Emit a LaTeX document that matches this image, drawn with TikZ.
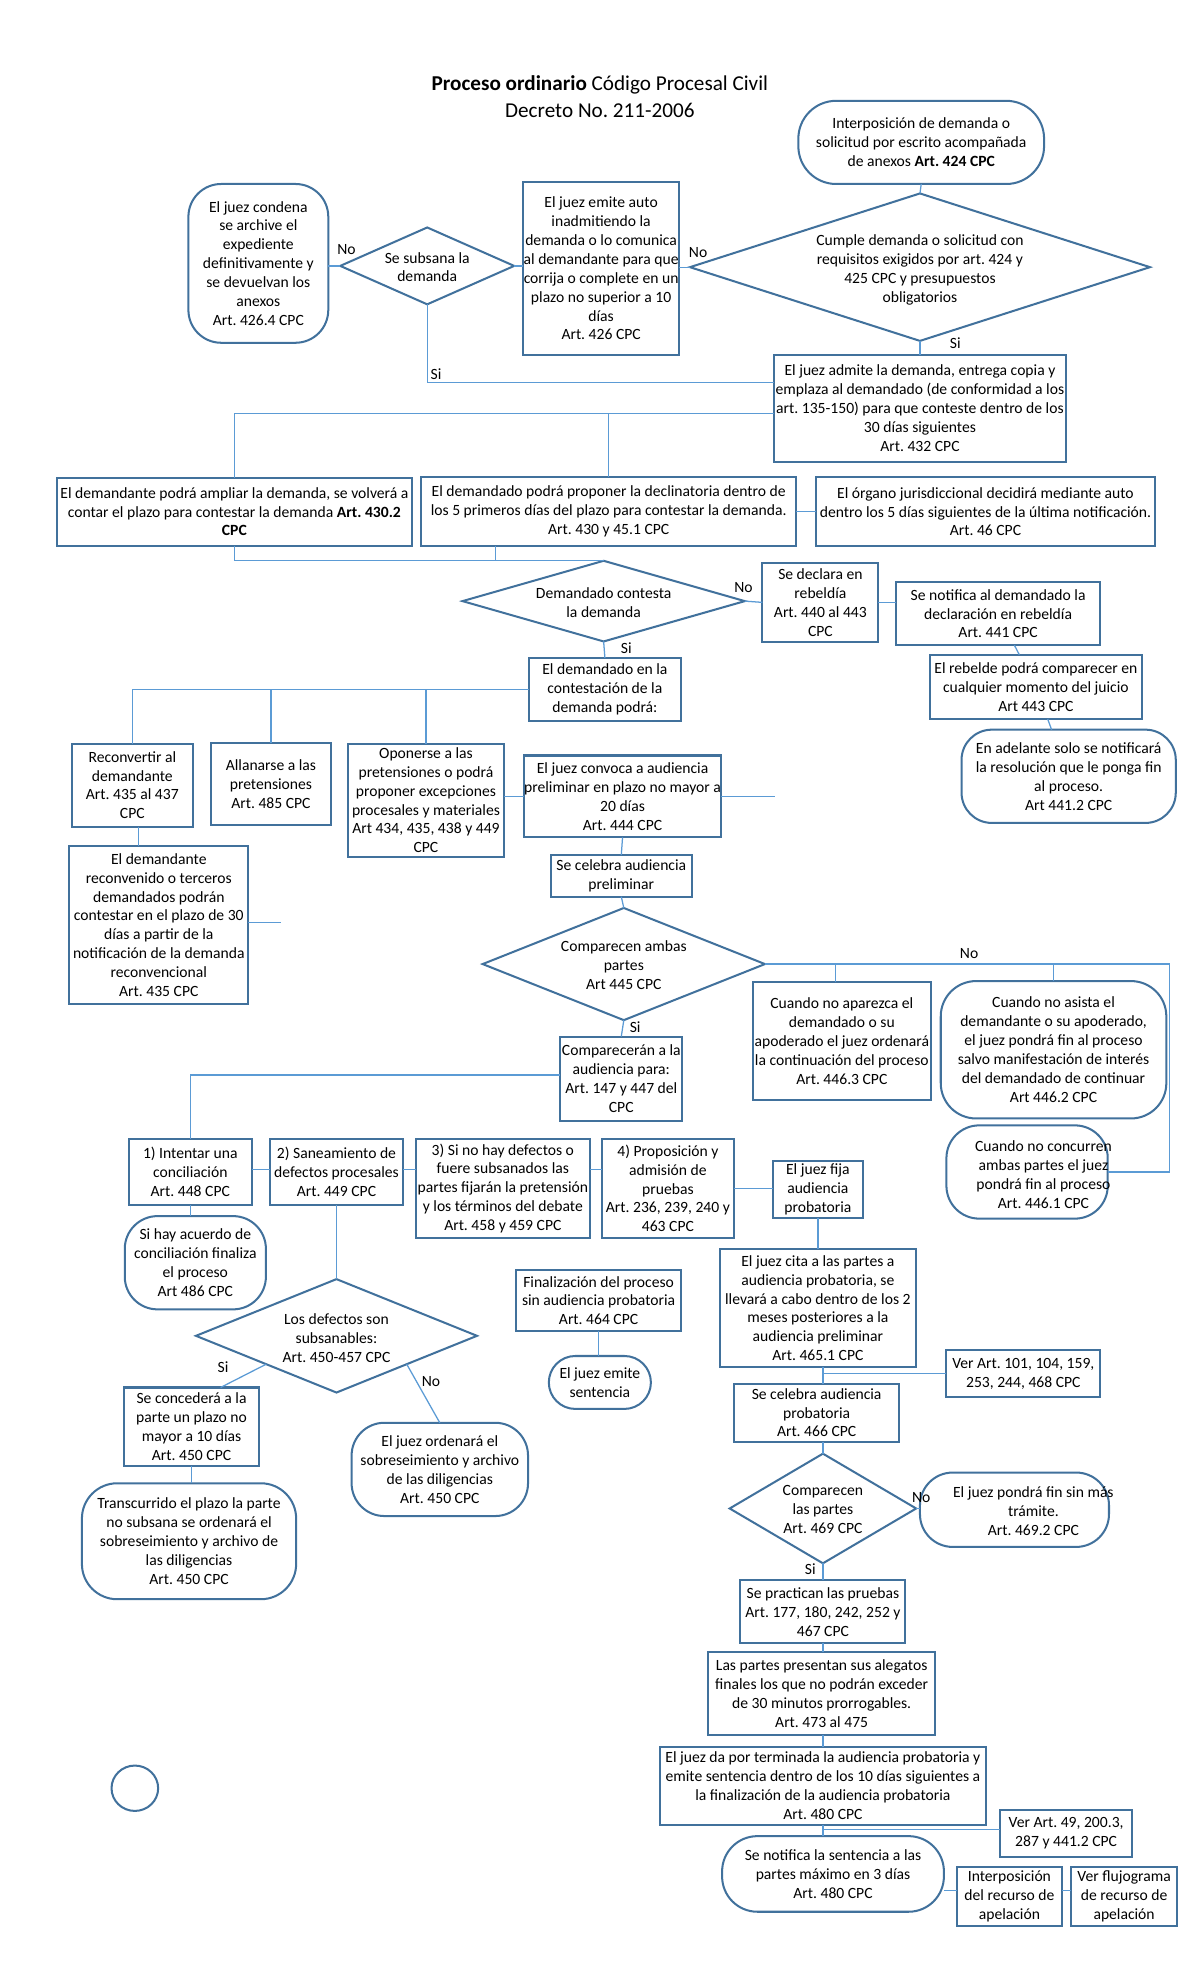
\documentclass[tikz,border=0pt]{standalone}
\usepackage{fontspec}
\setmainfont{Carlito}
\usetikzlibrary{shapes.geometric,calc}
\definecolor{bord}{HTML}{41719C}
\definecolor{conn}{HTML}{5B9BD5}
\frenchspacing
\begin{document}
\begin{tikzpicture}[x=1pt,y=-1pt,
  every node/.style={font=\fontsize{12.4}{15}\selectfont\frenchspacing},
  box/.style={draw=bord, line width=1.6pt, align=center, inner sep=0pt, outer sep=0pt, rectangle},
  rbox/.style={box, rounded corners=#1},
  dia/.style={diamond, draw=bord, line width=1.6pt, inner sep=0pt, outer sep=0pt},
  sz/.style 2 args={minimum width=#1pt, minimum height=#2pt},
  txt/.style={align=center, inner sep=0pt},
  lab/.style={inner sep=0pt},
  cn/.style={draw=conn, line width=1pt},
]
\fill[white] (0,0) rectangle (952,1568);
\useasboundingbox (0,0) rectangle (952,1568);

% title
\node[font=\fontsize{16.8}{21}\selectfont\frenchspacing, inner sep=0pt] (t1) at (476,67) {\textbf{Proceso ordinario} Código Procesal Civil};
\node[font=\fontsize{16.8}{21}\selectfont\frenchspacing, inner sep=0pt] (t2) at (476,88) {Decreto No. 211-2006};

% top part
\node[rbox=30pt, sz={195}{66}] (start) at (731,113) {Interposición de demanda o\\solicitud por escrito acompañada\\de anexos \textbf{Art. 424 CPC}};
\node[dia, sz={365}{117}] (d1) at (730,212) {};
\node[txt] (d1t) at (730,214) {Cumple demanda o solicitud con\\requisitos exigidos por art. 424 y\\425 CPC y presupuestos\\obligatorios};
\node[box, sz={124}{137}] (emite) at (477,213) {El juez emite auto\\inadmitiendo la\\demanda o lo comunica\\al demandante para que\\corrija o complete en un\\plazo no superior a 10\\días\\Art. 426 CPC};
\node[dia, sz={138}{61}] (sub) at (339,211) {};
\node[txt] (subt) at (339,212) {Se subsana la\\demanda};
\node[rbox=26pt, sz={111}{126}] (condena) at (205,209) {El juez condena\\se archive el\\expediente\\definitivamente y\\se devuelvan los\\anexos\\Art. 426.4 CPC};
\node[box, sz={231}{85}] (admite) at (730,324) {El juez admite la demanda, entrega copia y\\emplaza al demandado (de conformidad a los\\art. 135-150) para que conteste dentro de los\\30 días siguientes\\Art. 432 CPC};

\node[box, sz={282}{54}] (ampl) at (186,406) {El demandante podrá ampliar la demanda, se volverá a\\contar el plazo para contestar la demanda \textbf{Art. 430.2}\\\textbf{CPC}};
\node[box, sz={298}{55}] (decl) at (483,406) {El demandado podrá proponer la declinatoria dentro de\\los 5 primeros días del plazo para contestar la demanda.\\Art. 430 y 45.1 CPC};
\node[box, sz={269}{55}] (organo) at (782,406) {El órgano jurisdiccional decidirá mediante auto\\dentro los 5 días siguientes de la última notificación.\\Art. 46 CPC};

\node[dia, sz={224}{64}] (d2) at (479,477) {};
\node[txt] (d2t) at (479,478) {Demandado contesta\\la demanda};
\node[box, sz={92}{63}] (reb) at (651,478) {Se declara en\\rebeldía\\Art. 440 al 443\\CPC};
\node[box, sz={162}{50}] (notif) at (792,487) {Se notifica al demandado la\\declaración en rebeldía\\Art. 441 CPC};
\node[box, sz={168}{51}] (rebelde) at (822,545) {El rebelde podrá comparecer en\\cualquier momento del juicio\\Art 443 CPC};
\node[rbox=24pt, sz={170}{74}] (adel) at (848,616) {En adelante solo se notificará\\la resolución que le ponga fin\\al proceso.\\Art 441.2 CPC};

\node[box, sz={121}{50}] (contest) at (480,547) {El demandado en la\\contestación de la\\demanda podrá:};
\node[box, sz={96}{66}] (reconv) at (105,623) {Reconvertir al\\demandante\\Art. 435 al 437\\CPC};
\node[box, sz={95}{65}] (allan) at (215,622) {Allanarse a las\\pretensiones\\Art. 485 CPC};
\node[box, sz={124}{90}] (opon) at (338,635) {Oponerse a las\\pretensiones o podrá\\proponer excepciones\\procesales y materiales\\Art 434, 435, 438 y 449\\CPC};
\node[box, sz={157}{65}] (convoca) at (494,632) {El juez convoca a audiencia\\preliminar en plazo no mayor a\\20 días\\Art. 444 CPC};
\node[box, sz={142}{126}] (recon2) at (126,734) {El demandante\\reconvenido o terceros\\demandados podrán\\contestar en el plazo de 30\\días a partir de la\\notificación de la demanda\\reconvencional\\Art. 435 CPC};

\node[box, sz={112}{33}] (celpre) at (493,695) {Se celebra audiencia\\preliminar};
\node[dia, sz={224}{89}] (d3) at (495,765) {};
\node[txt] (d3t) at (495,766) {Comparecen ambas\\partes\\Art 445 CPC};
\node[box, sz={141}{93}] (apar) at (668,826) {Cuando no aparezca el\\demandado o su\\apoderado el juez ordenará\\la continuación del proceso\\Art. 446.3 CPC};
\node[rbox=28pt, sz={179}{109}] (asista) at (836,833) {Cuando no asista el\\demandante o su apoderado,\\el juez pondrá fin al proceso\\salvo manifestación de interés\\del demandado de continuar\\Art 446.2 CPC};
\node[rbox=26pt, sz={128}{74}] (concur) at (815,930) {};
\node[txt] (concurt) at (828,932) {Cuando no concurren\\ambas partes el juez\\pondrá fin al proceso\\Art. 446.1 CPC};
\node[box, sz={97}{67}] (compar) at (493,856) {Comparecerán a la\\audiencia para:\\Art. 147 y 447 del\\CPC};

\node[box, sz={98}{52}] (intent) at (151,930) {1) Intentar una\\conciliación\\Art. 448 CPC};
\node[box, sz={106}{52}] (sanea) at (267,930) {2) Saneamiento de\\defectos procesales\\Art. 449 CPC};
\node[box, sz={138}{78}] (nodef) at (399,943) {3) Si no hay defectos o\\fuere subsanados las\\partes fijarán la pretensión\\y los términos del debate\\Art. 458 y 459 CPC};
\node[box, sz={105}{79}] (propos) at (530,943) {4) Proposición y\\admisión de\\pruebas\\Art. 236, 239, 240 y\\463 CPC};
\node[box, sz={71}{45}] (fija) at (649,944) {El juez fija\\audiencia\\probatoria};
\node[rbox=26pt, sz={112}{74}] (acuerdo) at (155,1002) {Si hay acuerdo de\\conciliación finaliza\\el proceso\\Art 486 CPC};

\node[dia, sz={223}{90}] (d4) at (267,1060) {};
\node[txt] (d4t) at (267,1062) {Los defectos son\\subsanables:\\Art. 450-457 CPC};
\node[box, sz={107}{62}] (conced) at (152,1132) {Se concederá a la\\parte un plazo no\\mayor a 10 días\\Art. 450 CPC};
\node[rbox=26pt, sz={140}{74}] (ordena) at (349,1166) {El juez ordenará el\\sobreseimiento y archivo\\de las diligencias\\Art. 450 CPC};
\node[rbox=28pt, sz={170}{92}] (transc) at (150,1223) {Transcurrido el plazo la parte\\no subsana se ordenará el\\sobreseimiento y archivo de\\las diligencias\\Art. 450 CPC};

\node[box, sz={131}{49}] (final) at (475,1032) {Finalización del proceso\\sin audiencia probatoria\\Art. 464 CPC};
\node[rbox=21pt, sz={81}{42}] (emsent) at (476,1097) {El juez emite\\sentencia};
\node[box, sz={156}{94}] (cita) at (649,1038) {El juez cita a las partes a\\audiencia probatoria, se\\llevará a cabo dentro de los 2\\meses posteriores a la\\audiencia preliminar\\Art. 465.1 CPC};
\node[box, sz={122}{37}] (verA) at (812,1090) {Ver Art. 101, 104, 159,\\253, 244, 468 CPC};
\node[box, sz={131}{46}] (celpro) at (648,1121) {Se celebra audiencia\\probatoria\\Art. 466 CPC};
\node[dia, sz={148}{87}] (d5) at (653,1197) {};
\node[txt] (d5t) at (653,1198) {Comparecen\\las partes\\Art. 469 CPC};
\node[rbox=26pt, sz={150}{59}] (finsin) at (805,1198) {};
\node[txt] (finsint) at (820,1199) {El juez pondrá fin sin más\\trámite.\\Art. 469.2 CPC};
\node[box, sz={131}{50}] (pract) at (653,1279) {Se practican las pruebas\\Art. 177, 180, 242, 252 y\\467 CPC};
\node[box, sz={180}{66}] (alegat) at (652,1344) {Las partes presentan sus alegatos\\finales los que no podrán exceder\\de 30 minutos prorrogables.\\Art. 473 al 475};
\node[box, sz={259}{62}] (termina) at (653,1417) {El juez da por terminada la audiencia probatoria y\\emite sentencia dentro de los 10 días siguientes a\\la finalización de la audiencia probatoria\\Art. 480 CPC};
\node[box, sz={105}{37}] (verB) at (846,1455) {Ver Art. 49, 200.3,\\287 y 441.2 CPC};
\node[rbox=28pt, sz={176}{60}] (notsent) at (661,1487) {Se notifica la sentencia a las\\partes máximo en 3 días\\Art. 480 CPC};
\node[box, sz={84}{47}] (interp) at (801,1505) {Interposición\\del recurso de\\apelación};
\node[box, sz={84}{47}] (flujo) at (892,1505) {Ver flujograma\\de recurso de\\apelación};
\node[ellipse, draw=bord, line width=1.6pt, inner sep=0pt, minimum width=37pt, minimum height=36pt] (circ) at (107,1419) {};

% labels
\node[lab] (l1) at (275,198) {No};
\node[lab] (l2) at (554,200) {No};
\node[lab] (l3) at (758,272) {Si};
\node[lab] (l4) at (346,297) {Si};
\node[lab] (l5) at (590,466) {No};
\node[lab] (l6) at (497,514) {Si};
\node[lab] (l7) at (769,757) {No};
\node[lab] (l8) at (504,815) {Si};
\node[lab] (l9) at (177,1085) {Si};
\node[lab] (l10) at (342,1096) {No};
\node[lab] (l11) at (731,1188) {No};
\node[lab] (l12) at (643,1245) {Si};

% free ends
\coordinate (dang1) at (615,632);
\coordinate (dang2) at (223,732);
\coordinate (cR) at (928,765);

% connectors
\draw[cn] (start.south) -- (d1.north);
\draw[cn] (d1.west) -- (d1.west -| emite.east);
\draw[cn] (sub.east) -- (sub.east -| emite.west);
\draw[cn] (sub.west) -- (sub.west -| condena.east);
\draw[cn] (sub.south) |- ([yshift=-22pt]admite.north west);
\draw[cn] (d1.south) -- (admite.north);
\coordinate (j1) at ([yshift=-4pt]admite.west);
\draw[cn] (j1) -| (ampl.north);
\draw[cn] (decl.north) -- (decl.north |- j1);
\draw[cn] (decl.east) -- (organo.west);
\draw[cn] (ampl.south) |- (d2.north);
\draw[cn] ([xshift=-90pt]decl.south) -- ([xshift=-90pt]decl.south |- d2.north);
\draw[cn] (d2.east) -- (reb.west);
\draw[cn] (reb.east) -- (reb.east -| notif.west);
\draw[cn] (notif) -- (rebelde);
\draw[cn] (rebelde) -- (adel);
\draw[cn] (d2.south) -- (contest.north);
\draw[cn] (contest.west) -| (reconv.north);
\draw[cn] (allan.north) -- (allan.north |- contest.west);
\draw[cn] (opon.north) -- (opon.north |- contest.west);
\draw[cn] (convoca.west) -- (convoca.west -| opon.east);
\draw[cn] (convoca.east) -- (dang1);
\draw[cn] ([xshift=5pt]reconv.south) -- ([xshift=5pt]reconv.south |- recon2.north);
\draw[cn] (recon2.east |- dang2) -- (dang2);
\draw[cn] (convoca.south) -- (celpre.north);
\draw[cn] (celpre.south) -- (d3.north);
\draw[cn] (d3.east) -- (cR) |- (concur.east);
\draw[cn] ([xshift=-5pt]apar.north) -- ([xshift=-5pt]apar.north |- d3.east);
\draw[cn] (asista.north) -- (asista.north |- d3.east);
\draw[cn] (d3.south) -- (compar.north);
\draw[cn] ([yshift=3pt]compar.west) -| (intent.north);
\draw[cn] ([yshift=2pt]intent.east) -- ([yshift=2pt]sanea.west);
\draw[cn] ([yshift=2pt]sanea.east) -- ([yshift=2pt]sanea.east -| nodef.west);
\draw[cn] ([yshift=2pt]sanea.east -| nodef.east) -- ([yshift=2pt]sanea.east -| propos.west);
\draw[cn] (propos.east) -- (propos.east -| fija.west);
\draw[cn] (fija.south) -- (fija.south |- cita.north);
\draw[cn] (intent.south) -- (intent.south |- acuerdo.north);
\draw[cn] (sanea.south) -- (d4.north);
\draw[cn] (d4.south west) -- ([xshift=23pt]conced.north);
\draw[cn] (d4.south east) -- (ordena.north);
\draw[cn] (conced.south) -- (conced.south |- transc.north);
\draw[cn] (final.south) -- (final.south |- emsent.north);
\draw[cn] ([xshift=4pt]cita.south) -- ([xshift=4pt]cita.south |- celpro.north);
\draw[cn] ([xshift=4pt]cita.south |- verA.west) -- (verA.west);
\draw[cn] (celpro.south -| d5.north) -- (d5.north);
\draw[cn] (d5.east) -- (d5.east -| finsin.west);
\draw[cn] (d5.south) -- (pract.north);
\draw[cn] (pract.south) -- (pract.south |- alegat.north);
\draw[cn] (alegat.south -| termina.south) -- (termina.north);
\draw[cn] (termina.south) -- (termina.south |- notsent.north);
\draw[cn] ([yshift=3pt]termina.south |- verB.west) -- ([yshift=3pt]verB.west);
\draw[cn] ([yshift=5pt]interp.west) -- ([yshift=5pt]interp.west -| notsent.east);
\draw[cn] ([yshift=5pt]interp.east) -- ([yshift=5pt]interp.east -| flujo.west);
\end{tikzpicture}
\end{document}
